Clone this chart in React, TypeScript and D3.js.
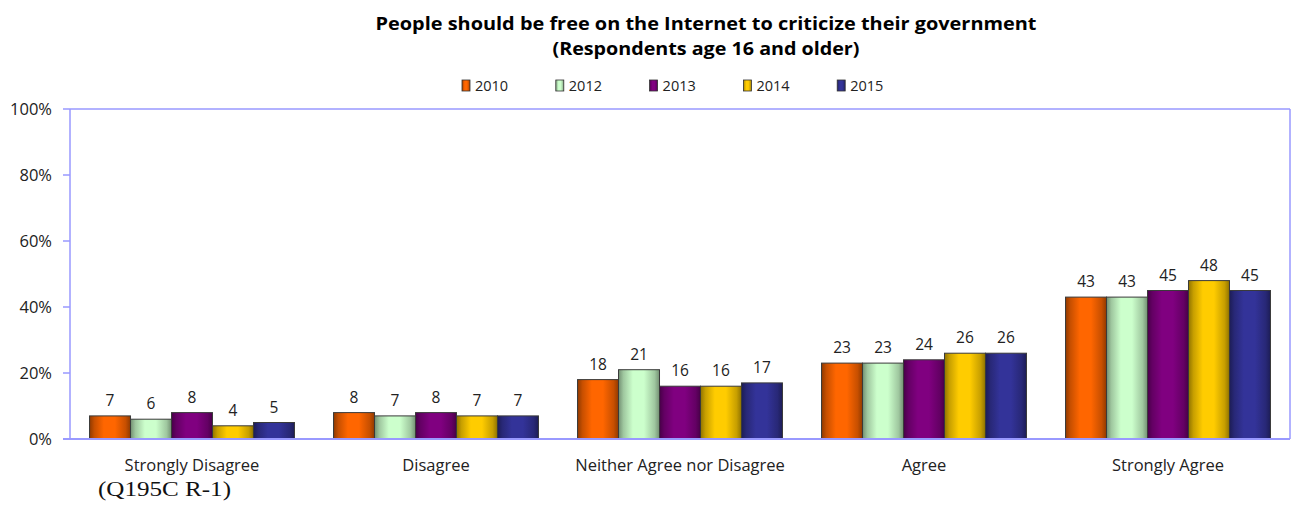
import React from "react";
import * as d3 from "d3";

const categories = ["Strongly Disagree", "Disagree", "Neither Agree nor Disagree", "Agree", "Strongly Agree"];
const years = ["2010", "2012", "2013", "2014", "2015"];
const v2010 = [7, 8, 18, 23, 43];
const v2012 = [6, 7, 21, 23, 43];
const v2013 = [8, 8, 16, 24, 45];
const v2014 = [4, 7, 16, 26, 48];
const v2015 = [5, 7, 17, 26, 45];
const seriesValues = [v2010, v2012, v2013, v2014, v2015];
const colors = ["#FF6600", "#CCFFCC", "#800080", "#FFCC00", "#333399"];
const yTicks = [0, 20, 40, 60, 80, 100];

const W = 1291, H = 510;
const M = { left: 70, right: 1290, top: 109, bottom: 439 };
const FONT = "'Open Sans', 'Noto Sans', sans-serif";

export default function App() {
  const x0 = d3.scaleBand<string>().domain(categories).range([M.left, M.right]).paddingInner(0.16).paddingOuter(0.08);
  const x1 = d3.scaleBand<string>().domain(years).range([0, x0.bandwidth()]).padding(0);
  const y = d3.scaleLinear().domain([0, 100]).range([M.bottom, M.top]);
  const axisColor = "#9999FF";

  return (
    <svg width={W} height={H} style={{ position: "absolute", left: 0, top: 0, display: "block", background: "#fff" }}>
      <defs>
        {colors.map((c, i) => {
          const dark = d3.color(c)!.darker(1.6).formatHex();
          const mid = d3.color(c)!.darker(0.7).formatHex();
          return (
            <linearGradient key={i} id={`g${i}`} x1="0" x2="1" y1="0" y2="0">
              <stop offset="0" stopColor={dark} />
              <stop offset="0.12" stopColor={mid} />
              <stop offset="0.35" stopColor={c} />
              <stop offset="0.62" stopColor={c} />
              <stop offset="0.88" stopColor={mid} />
              <stop offset="1" stopColor={dark} />
            </linearGradient>
          );
        })}
      </defs>
      <text x={706} y={30} textAnchor="middle" fontFamily={FONT} fontWeight="bold" fontSize={18} textLength={661} lengthAdjust="spacingAndGlyphs" fill="#000">
        People should be free on the Internet to criticize their government
      </text>
      <text x={706} y={55} textAnchor="middle" fontFamily={FONT} fontWeight="bold" fontSize={18} textLength={307} lengthAdjust="spacingAndGlyphs" fill="#000">
        (Respondents age 16 and older)
      </text>
      {years.map((yr, i) => (
        <g key={yr} transform={`translate(${462 + i * 93.8},80)`}>
          <rect x={0} y={0} width={8} height={11} fill={`url(#g${i})`} stroke="#333" strokeWidth={0.8} />
          <text x={13} y={11} fontFamily={FONT} fontSize={14.5} fill="#222">{yr}</text>
        </g>
      ))}
      {/* plot frame */}
      <line x1={M.left} x2={M.right} y1={M.top} y2={M.top} stroke={axisColor} strokeWidth={1.5} />
      <line x1={M.right} x2={M.right} y1={M.top} y2={M.bottom} stroke={axisColor} strokeWidth={1.5} />
      <line x1={M.left} x2={M.left} y1={M.top} y2={M.bottom} stroke={axisColor} strokeWidth={1.5} />
      {yTicks.map((t) => (
        <g key={t}>
          <line x1={M.left - 7} x2={M.left} y1={y(t)} y2={y(t)} stroke={axisColor} strokeWidth={1.5} />
          <text x={52} y={y(t) + 6} textAnchor="end" fontFamily={FONT} fontSize={16.5} fill="#222">{t}%</text>
        </g>
      ))}
      {categories.map((c, ci) => (
        <g key={c}>
          {years.map((yr, si) => {
            const v = seriesValues[si][ci];
            const bx = x0(c)! + x1(yr)!;
            const bw = x1.bandwidth();
            return (
              <g key={yr}>
                <rect x={bx} y={y(v)} width={bw} height={y(0) - y(v)} fill={`url(#g${si})`} stroke="#3a3a3a" strokeWidth={1} />
                <text x={bx + bw / 2} y={y(v) - 10} textAnchor="middle" fontFamily={FONT} fontSize={15.5} fill="#222">{v}</text>
              </g>
            );
          })}
          <text x={x0(c)! + x0.bandwidth() / 2} y={471} textAnchor="middle" fontFamily={FONT} fontSize={16.5} fill="#222">{c}</text>
        </g>
      ))}
      <line x1={M.left - 7} x2={M.right} y1={M.bottom} y2={M.bottom} stroke={axisColor} strokeWidth={2} />
      <text x={98} y={496} fontFamily="'Liberation Serif', 'DejaVu Serif', serif" fontSize={21.5} textLength={133} lengthAdjust="spacingAndGlyphs" fill="#111">(Q195C R-1)</text>
    </svg>
  );
}
